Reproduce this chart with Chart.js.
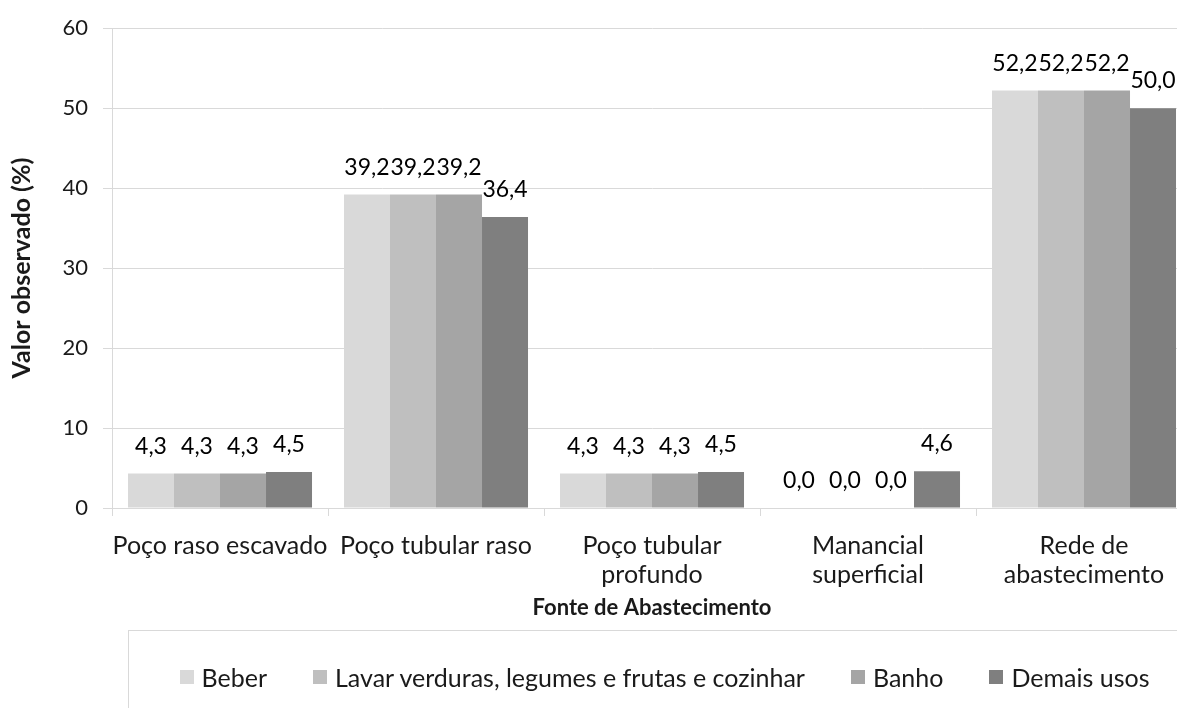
<!DOCTYPE html>
<html>
<head>
<meta charset="utf-8">
<script src="https://cdn.jsdelivr.net/npm/chart.js@4/dist/chart.umd.min.js"></script>
<style>
  html, body { margin: 0; padding: 0; background: #fff; width: 1177px; height: 708px; overflow: hidden; }
  #wrap { position: relative; width: 1200px; height: 708px; }
  #legend {
    position: absolute; left: 128px; top: 630px; width: 1072px; height: 92px;
    box-sizing: border-box; border-top: 1px solid #d9d9d9; border-left: 1px solid #d9d9d9;
    display: flex; justify-content: center; align-items: center;
    font: 25px Lato, sans-serif; color: #1a1a1a; white-space: nowrap;
  }
  .item { display: flex; align-items: center; margin: 0 23px; }
  .sw { width: 14px; height: 14px; margin-right: 8px; }
</style>
</head>
<body>
<div id="wrap">
  <canvas id="chart" width="1200" height="708"></canvas>
  <div id="legend"></div>
</div>
<script>
// Water-supply source categories and the share (%) for each use
const categories = [
  "Poço raso escavado",
  "Poço tubular raso",
  ["Poço tubular", "profundo"],
  ["Manancial", "superficial"],
  ["Rede de", "abastecimento"]
];
const seriesNames = ["Beber", "Lavar verduras, legumes e frutas e cozinhar", "Banho", "Demais usos"];
const beber   = [4.3, 39.2, 4.3, 0.0, 52.2];
const lavar   = [4.3, 39.2, 4.3, 0.0, 52.2];
const banho   = [4.3, 39.2, 4.3, 0.0, 52.2];
const demais  = [4.5, 36.4, 4.5, 4.6, 50.0];
const yTicks  = [0, 10, 20, 30, 40, 50, 60];
const colors  = ["#d9d9d9", "#bfbfbf", "#a5a5a5", "#7f7f7f"];

const seriesValues = [beber, lavar, banho, demais];
const textColor = "#1a1a1a";
const gridColor = "#d9d9d9";

const fmt = v => v.toFixed(1).replace(".", ",");

// Value labels above each bar
const valueLabels = {
  id: "valueLabels",
  afterDatasetsDraw(chart) {
    const ctx = chart.ctx;
    ctx.save();
    ctx.font = "23px Lato, sans-serif";
    ctx.fillStyle = "#000";
    ctx.textAlign = "center";
    ctx.textBaseline = "alphabetic";
    chart.data.datasets.forEach((ds, i) => {
      chart.getDatasetMeta(i).data.forEach((bar, j) => {
        ctx.fillText(fmt(ds.data[j]), bar.x, bar.y - 20);
      });
    });
    ctx.restore();
  }
};

function build() {
  new Chart(document.getElementById("chart"), {
    type: "bar",
    data: {
      labels: categories,
      datasets: seriesNames.map((name, i) => ({
        label: name,
        data: seriesValues[i],
        backgroundColor: colors[i],
        borderWidth: 0,
        barPercentage: 1,
        categoryPercentage: 0.852
      }))
    },
    options: {
      responsive: false,
      animation: false,
      events: [],
      layout: { padding: { top: 24, left: 0, right: 8, bottom: 78 } },
      plugins: { legend: { display: false }, tooltip: { enabled: false } },
      scales: {
        x: {
          grid: { display: true, drawOnChartArea: false, offset: true, tickLength: 8, color: gridColor },
          border: { color: gridColor },
          ticks: { color: textColor, font: { family: "Lato", size: 25, lineHeight: 1.16 }, padding: 15, maxRotation: 0, autoSkip: false },
          title: { display: true, text: "Fonte de Abastecimento", color: textColor,
                   font: { family: "Lato", size: 22, weight: "bold", lineHeight: 1.2 }, padding: { top: 0, bottom: 9 } },
          afterFit(s) { s.height = 122; }
        },
        y: {
          min: 0, max: 60,
          afterBuildTicks(s) { s.ticks = yTicks.map(v => ({ value: v })); },
          grid: { color: gridColor, tickLength: 9 },
          border: { color: gridColor },
          ticks: { color: textColor, font: { family: "Lato", size: 22 }, padding: 15 },
          title: { display: true, text: "Valor observado (%)", color: textColor,
                   font: { family: "Lato", size: 25, weight: "bold", lineHeight: 1.2 }, padding: { top: 7, bottom: 0 } },
          afterFit(s) { s.width = 112; }
        }
      }
    },
    plugins: [valueLabels]
  });

  const legend = document.getElementById("legend");
  seriesNames.forEach((name, i) => {
    const item = document.createElement("div");
    item.className = "item";
    const sw = document.createElement("span");
    sw.className = "sw";
    sw.style.background = colors[i];
    const tx = document.createElement("span");
    tx.textContent = name;
    item.appendChild(sw);
    item.appendChild(tx);
    legend.appendChild(item);
  });
}

Promise.all([
  document.fonts.load("22px Lato"),
  document.fonts.load("bold 22px Lato"),
  document.fonts.load("25px Lato")
]).then(build, build);
</script>
</body>
</html>
